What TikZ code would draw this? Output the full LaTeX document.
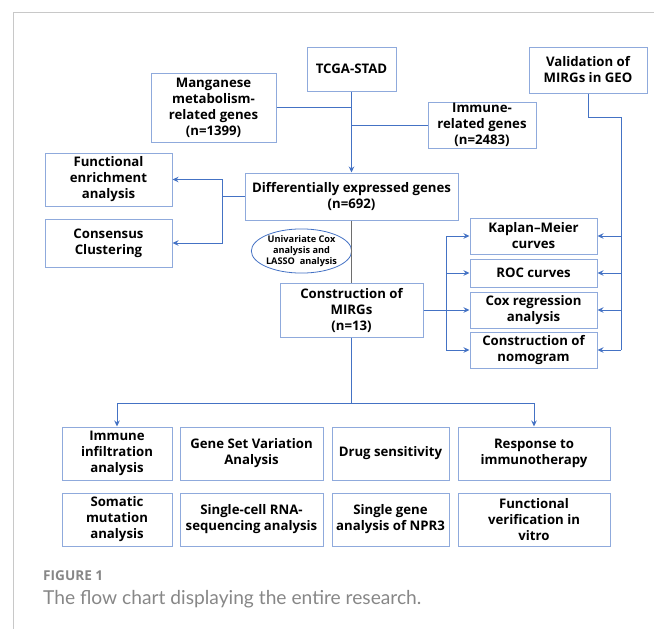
\documentclass[tikz,border=0pt]{standalone}
\usepackage{fontspec}
\setmainfont{Open Sans}
\newfontfamily\capfont{Lato}
\usetikzlibrary{arrows.meta,shapes.geometric}
\definecolor{boxc}{RGB}{143,170,220}
\definecolor{linec}{RGB}{68,114,196}
\definecolor{framec}{RGB}{200,200,200}
\definecolor{capc}{RGB}{135,135,135}
\definecolor{grayl}{RGB}{110,110,110}
\tikzset{
  box/.style={draw=boxc,line width=1pt,inner sep=0pt,align=center,text=black,
    font=\bfseries\fontsize{13.2}{16}\selectfont},
  conn/.style={draw=linec,line width=1pt},
  arr/.style={conn,-{Stealth[length=6pt,width=5.5pt]}},
}
\newcommand{\bx}[6]{\node[box,minimum width=#4,minimum height=#5] (#1) at (#2,#3) {#6};}
\begin{document}
\begin{tikzpicture}[x=1pt,y=-1pt]
\useasboundingbox (0,0) rectangle (654,629);
% page frame
\draw[framec,line width=1pt] (654,12) -- (13,12) -- (13,629);
% top nodes
\bx{tcga}{351.5}{69}{89}{44}{TCGA-STAD}
\bx{mang}{213.5}{107.5}{125}{69}{Manganese\\metabolism-\\related genes\\(n=1399)}
\bx{imm}{482}{125}{108}{46}{Immune-\\related genes\\(n=2483)}
\bx{val}{588}{70}{118}{46}{Validation of\\MIRGs in GEO}
\bx{deg}{351.5}{196.5}{213}{47}{Differentially expressed genes\\(n=692)}
\bx{func}{108.5}{179.5}{127}{53}{Functional\\enrichment\\analysis}
\bx{cons}{108.5}{243}{127}{48}{Consensus\\Clustering}
\node[ellipse,draw=linec,line width=0.8pt,inner sep=0pt,minimum width=96,minimum height=43,
  align=center,font=\bfseries\fontsize{9.2}{11}\selectfont] (uni) at (301.5,251)
  {Univariate Cox\\analysis and\\LASSO\ \ analysis};
\bx{mirg}{351.5}{310}{143}{54}{Construction of\\MIRGs\\(n=13)}
\bx{km}{533.5}{236}{127}{36}{Kaplan--Meier\\curves}
\bx{roc}{533.5}{273}{127}{28}{ROC curves}
\bx{cox}{533.5}{310}{127}{36}{Cox regression\\analysis}
\bx{nom}{533.5}{350}{127}{36}{Construction of\\nomogram}
% bottom grid
\bx{b11}{117}{453.5}{110}{53}{Immune\\infiltration\\analysis}
\bx{b12}{251.5}{453.5}{143}{53}{Gene Set Variation\\Analysis}
\bx{b13}{390.5}{453.5}{117}{53}{Drug sensitivity}
\bx{b14}{534}{453.5}{152}{53}{Response to\\immunotherapy}
\bx{b21}{117}{519.5}{110}{53}{Somatic\\mutation\\analysis}
\bx{b22}{251.5}{519.5}{143}{53}{Single-cell RNA-\\sequencing analysis}
\bx{b23}{390.5}{519.5}{117}{53}{Single gene\\analysis of NPR3}
\bx{b24}{534}{519.5}{152}{53}{Functional\\verification in\\vitro}
% junction coordinates
\coordinate (jl) at (222,196.5);
\coordinate (jr) at (446,310);
\coordinate (vb) at (621,117);
\coordinate (bj) at (351.5,403);
% connectors
\draw[conn] (mang.east) -- (mang.east -| tcga.south);
\draw[conn] (imm.west) -- (imm.west -| tcga.south);
\draw[arr] (tcga.south) -- (deg.north);
\draw[conn] (deg.west) -- (jl);
\draw[arr] (jl) |- (func.east);
\draw[arr] (jl) |- (cons.east);
\draw[grayl,line width=1pt] (deg.south) -- (mirg.north);
\draw[arr] (mirg.east) -- (cox.west);
\draw[conn] (km.west -| jr) -- (nom.west -| jr);
\draw[arr] (km.west -| jr) -- (km.west);
\draw[arr] (roc.west -| jr) -- (roc.west);
\draw[arr] (nom.west -| jr) -- (nom.west);
\draw[conn] (val.south) |- (vb) -- (vb |- nom.east);
\draw[arr] (vb |- km.east) -- (km.east);
\draw[arr] (vb |- roc.east) -- (roc.east);
\draw[arr] (vb |- cox.east) -- (cox.east);
\draw[arr] (vb |- nom.east) -- (nom.east);
\draw[conn] (mirg.south) -- (bj);
\draw[arr] (bj) -| (b11.north);
\draw[arr] (bj) -| (b14.north);
% caption
\node[anchor=west,text=capc,font=\bfseries\fontsize{13.6}{16}\selectfont,inner sep=0pt] (figl) at (43,576) {FIGURE 1};
\node[anchor=west,text=capc,font=\capfont\fontsize{19.2}{22}\selectfont,inner sep=0pt] (capt) at (43,599) {The flow chart displaying the entire research.};
\end{tikzpicture}
\end{document}
